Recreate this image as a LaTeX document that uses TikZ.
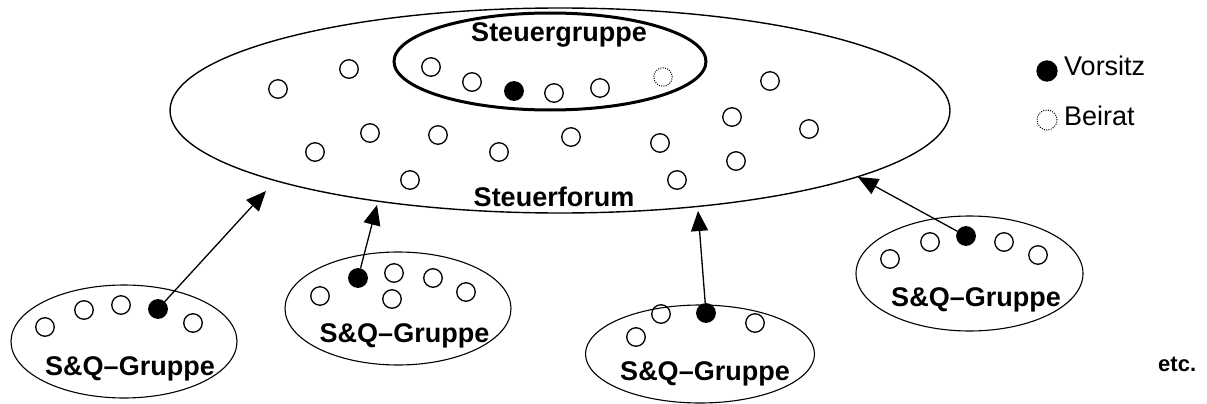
\documentclass[tikz,border=0pt]{standalone}
\usepackage{fontspec}
\setmainfont{Liberation Sans}
\usetikzlibrary{arrows.meta,shapes.geometric}
\begin{document}
\begin{tikzpicture}[x=1pt,y=-1pt,
  member/.style={circle,draw,line width=1.3pt,minimum size=18.5pt,inner sep=0pt},
  chair/.style={member,fill=black},
  advisor/.style={member,line width=1pt,dash pattern=on 1pt off 1.3pt},
  group/.style={ellipse,draw,line width=1.1pt,inner sep=0pt},
  lbl/.style={font=\bfseries\fontsize{27}{29}\selectfont,inner sep=0pt,anchor=base},
  leg/.style={font=\fontsize{27}{29}\selectfont,inner sep=0pt,anchor=base west},
  link/.style={-{Triangle[length=20pt,width=17pt]},line width=1.3pt}
]
\useasboundingbox (0,0) rectangle (1207,404);

% Steuerforum
\node[group,line width=1.4pt,minimum width=780pt,minimum height=205pt] (forum) at (560,110.5) {};
\node[lbl] (forumlbl) at (554,206) {Steuerforum};
% Steuergruppe
\node[group,line width=3pt,minimum width=312pt,minimum height=97pt] (sg) at (550,61.5) {};
\node[lbl] (sglbl) at (559,42) {Steuergruppe};

\node[member] (f1) at (278,89) {};
\node[member] (f2) at (349,69) {};
\node[member] (f3) at (431,67) {};
\node[member] (f4) at (472,82) {};
\node[chair]  (f5) at (514,91) {};
\node[member] (f6) at (554,93) {};
\node[member] (f7) at (600,88) {};
\node[advisor] (f8) at (663,77) {};
\node[member] (f9) at (770,81) {};
\node[member] (f10) at (732,117) {};
\node[member] (f11) at (809,129) {};
\node[member] (f12) at (736,161) {};
\node[member] (f13) at (677,180) {};
\node[member] (f14) at (660,143) {};
\node[member] (f15) at (571,137) {};
\node[member] (f16) at (499,152) {};
\node[member] (f17) at (438,135) {};
\node[member] (f18) at (370,133) {};
\node[member] (f19) at (315,152) {};
\node[member] (f20) at (410,180) {};

% Group A
\node[group,minimum width=226pt,minimum height=113pt] (gA) at (124,341.5) {};
\node[lbl] (gAlbl) at (130,375) {S\&Q–Gruppe};
\node[member] (a1) at (45,327) {};
\node[member] (a2) at (84,310) {};
\node[member] (a3) at (121,305) {};
\node[chair]  (a4) at (158,309) {};
\node[member] (a5) at (193,323) {};

% Group B
\node[group,minimum width=226pt,minimum height=113pt] (gB) at (398,308.5) {};
\node[lbl] (gBlbl) at (404.5,342) {S\&Q–Gruppe};
\node[member] (b1) at (320,296) {};
\node[chair]  (b2) at (358,278) {};
\node[member] (b3) at (394,273) {};
\node[member] (b4) at (433,278) {};
\node[member] (b5) at (466,292) {};
\node[member] (b6) at (392,299) {};

% Group C
\node[group,minimum width=229pt,minimum height=98pt] (gC) at (700,354) {};
\node[lbl] (gClbl) at (705,380) {S\&Q–Gruppe};
\node[member] (c1) at (636,337) {};
\node[member] (c2) at (661,314) {};
\node[chair]  (c3) at (706,313) {};
\node[member] (c4) at (755,323) {};

% Group D
\node[group,minimum width=227pt,minimum height=115pt] (gD) at (969.5,273.5) {};
\node[lbl] (gDlbl) at (976,306) {S\&Q–Gruppe};
\node[member] (d1) at (890,259) {};
\node[member] (d2) at (930,242) {};
\node[chair]  (d3) at (966,236) {};
\node[member] (d4) at (1004,242) {};
\node[member] (d5) at (1038,255) {};

% arrows
\coordinate (tA) at (266,191);
\coordinate (tB) at (377,205);
\coordinate (tC) at (698,211);
\coordinate (tD) at (858,177);
\draw[link] (a4) -- (tA);
\draw[link] (b2) -- (tB);
\draw[link] (c3) -- (tC);
\draw[link] (d3) -- (tD);

% legend
\node[chair,minimum size=20pt] (legV) at (1047,71) {};
\node[leg] (legVt) at (1064,75) {Vorsitz};
\node[advisor,minimum size=20pt] (legB) at (1047,120) {};
\node[leg] (legBt) at (1064,125) {Beirat};

\node[font=\bfseries\fontsize{22}{24}\selectfont,inner sep=0pt,anchor=base west] (etc) at (1158,371) {etc.};
\end{tikzpicture}
\end{document}
